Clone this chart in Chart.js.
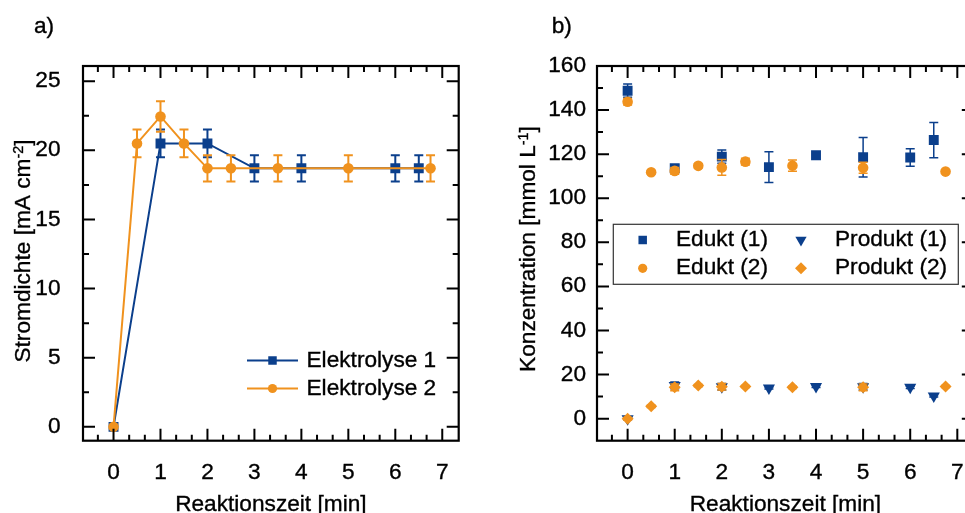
<!DOCTYPE html>
<html lang="de">
<head>
<meta charset="utf-8">
<title>Stromdichte und Konzentration</title>
<script src="https://cdn.jsdelivr.net/npm/chart.js@4.4.1/dist/chart.umd.min.js"></script>
<style>
  body { margin: 0; background: #fff; }
  .panel { position: absolute; top: 0; height: 513px; overflow: hidden; }
  #panelA { left: 0; width: 485px; }
  #panelB { left: 485px; width: 480px; }
</style>
</head>
<body>
<div class="panel" id="panelA"><canvas id="stromdichte" width="485" height="513"></canvas></div>
<div class="panel" id="panelB"><canvas id="konzentration" width="500" height="513"></canvas></div>
<script>
// a) Stromdichte
const zeitA1 = [0, 1, 2, 3, 4, 6, 6.5];
const stromA1 = [0, 20.5, 20.5, 18.7, 18.7, 18.7, 18.7];
const fehlerA1 = [0, 1.0, 1.0, 0.95, 0.95, 0.95, 0.95];
const zeitA2 = [0, 0.5, 1, 1.5, 2, 2.5, 3.5, 5, 6.75];
const stromA2 = [0, 20.5, 22.45, 20.5, 18.7, 18.7, 18.7, 18.7, 18.7];
const fehlerA2 = [0, 1.0, 1.1, 1.0, 0.95, 0.95, 0.95, 0.95, 0.95];

// b) Konzentration
const zeitB1 = [0, 1, 2, 3, 4, 5, 6, 6.5];
const edukt1 = [148.8, 113.6, 118.9, 114.1, 119.5, 118.6, 118.5, 126.4];
const eduktFehler1 = [3, 1.5, 3, 7, 0, 9, 4, 8];
const produkt1 = [0, 15.1, 14.5, 13.9, 14.6, 14.5, 14.2, 10.3];
const produktFehler1 = [0.5, 1.5, 1.5, 0.5, 0.5, 1.5, 0.5, 0.5];
const zeitB2 = [0, 0.5, 1, 1.5, 2, 2.5, 3.5, 5, 6.75];
const edukt2 = [143.8, 111.8, 112.4, 114.7, 114, 116.6, 114.8, 113.8, 112.1];
const eduktFehler2 = [1.5, 0.8, 1.5, 1, 3.6, 1.5, 2.5, 2.5, 0.5];
const produkt2 = [0, 5.6, 14.2, 15, 14.5, 14.6, 14.2, 14.2, 14.6];
const produktFehler2 = [0.5, 0.5, 1.5, 0.5, 1.5, 0.5, 0.5, 1.5, 0.5];

// Achsen
const zeitTicks = [0, 1, 2, 3, 4, 5, 6, 7];
const stromTicks = [0, 5, 10, 15, 20, 25];
const konzTicks = [0, 20, 40, 60, 80, 100, 120, 140, 160];

const BLAU = '#0b3f8c';
const ORANGE = '#f0921e';
const FAMILY = "'Liberation Sans', Arial, sans-serif";
const FONT = '22px ' + FAMILY;
const SUP_FONT = '14px ' + FAMILY;
const STRETCH = 1.03;   // die Schrift im Original ist etwas breiter

function punkte(xs, ys) {
  return xs.map((t, i) => ({x: t, y: ys[i]}));
}

// alle Texte etwas breiter und kräftiger zeichnen
const breiteSchrift = {
  id: 'breiteSchrift',
  beforeInit(chart) {
    const ctx = chart.ctx;
    const fill = ctx.fillText.bind(ctx);
    const stroke = ctx.strokeText.bind(ctx);
    ctx.fillText = function(text, x, y) {
      ctx.save();
      ctx.translate(x, y);
      ctx.scale(STRETCH, 1);
      fill(text, 0, 0);
      ctx.strokeStyle = ctx.fillStyle;
      ctx.lineWidth = 0.35;
      stroke(text, 0, 0);
      ctx.restore();
    };
  }
};

// Fehlerbalken vor jedem Datensatz
const fehlerbalken = {
  id: 'fehlerbalken',
  beforeDatasetDraw(chart, args) {
    const ds = chart.data.datasets[args.index];
    if (!ds.errors) return;
    const {ctx} = chart;
    const y = chart.scales.y;
    ctx.save();
    ctx.strokeStyle = ds.borderColor;
    ctx.lineWidth = ds.errorWidth || 1.5;
    args.meta.data.forEach((pt, i) => {
      const e = ds.errors[i];
      if (!e) return;
      const v = ds.data[i].y;
      const top = y.getPixelForValue(v + e), bot = y.getPixelForValue(v - e);
      const c = 4.5;
      ctx.beginPath();
      ctx.moveTo(pt.x, top); ctx.lineTo(pt.x, bot);
      ctx.moveTo(pt.x - c, top); ctx.lineTo(pt.x + c, top);
      ctx.moveTo(pt.x - c, bot); ctx.lineTo(pt.x + c, bot);
      ctx.stroke();
    });
    ctx.restore();
  }
};

// Rahmen mit Teilstrichen nach innen, auf allen vier Seiten
const rahmen = {
  id: 'rahmen',
  afterDraw(chart, args, o) {
    const {ctx, chartArea: a, scales: {x, y}} = chart;
    ctx.save();
    ctx.strokeStyle = '#000';
    ctx.lineWidth = 2;
    ctx.beginPath();
    for (let k = Math.ceil(x.min / o.xStep - 1e-9); k * o.xStep <= x.max + 1e-9; k++) {
      const px = x.getPixelForValue(k * o.xStep);
      if (px < a.left + 1 || px > a.right - 1) continue;
      const len = k % o.xEvery === 0 ? 12 : 6;
      ctx.moveTo(px, a.bottom); ctx.lineTo(px, a.bottom - len);
      ctx.moveTo(px, a.top); ctx.lineTo(px, a.top + len);
    }
    for (let k = Math.ceil(y.min / o.yStep - 1e-9); k * o.yStep <= y.max + 1e-9; k++) {
      const py = y.getPixelForValue(k * o.yStep);
      if (py < a.top + 1 || py > a.bottom - 1) continue;
      const len = k % o.yEvery === 0 ? 12 : 6;
      ctx.moveTo(a.left, py); ctx.lineTo(a.left + len, py);
      ctx.moveTo(a.right, py); ctx.lineTo(a.right - len, py);
    }
    ctx.stroke();
    ctx.lineWidth = 2.2;
    ctx.strokeRect(a.left, a.top, a.right - a.left, a.bottom - a.top);
    ctx.restore();
  }
};

// Legende im Diagramm
const legende = {
  id: 'legende',
  afterDatasetsDraw(chart, args, o) {
    const {ctx} = chart;
    ctx.save();
    if (o.box) {
      ctx.strokeStyle = '#333';
      ctx.lineWidth = 1.2;
      ctx.strokeRect(o.box[0], o.box[1], o.box[2], o.box[3]);
    }
    o.items.forEach(it => {
      const ds = chart.data.datasets[it.index];
      if (o.line) {
        ctx.strokeStyle = ds.borderColor;
        ctx.lineWidth = ds.borderWidth;
        ctx.beginPath();
        ctx.moveTo(it.x - o.line, it.y);
        ctx.lineTo(it.x + o.line, it.y);
        ctx.stroke();
      }
      ctx.fillStyle = ds.backgroundColor;
      Chart.helpers.drawPoint(ctx, {
        pointStyle: ds.pointStyle,
        rotation: ds.pointRotation || 0,
        radius: it.r || ds.pointRadius,
        borderWidth: 0
      }, it.x, it.y);
      ctx.fillStyle = '#000';
      ctx.font = FONT;
      ctx.textAlign = 'left';
      ctx.textBaseline = 'middle';
      ctx.fillText(ds.label, it.tx, it.y);
    });
    ctx.restore();
  }
};

// Achsentitel (mit Hochzahl) und Teilbild-Buchstabe
const achsentitel = {
  id: 'achsentitel',
  afterDraw(chart, args, o) {
    const {ctx, chartArea: a} = chart;
    ctx.save();
    ctx.fillStyle = '#000';
    ctx.font = FONT;
    ctx.textBaseline = 'alphabetic';
    ctx.textAlign = 'center';
    ctx.fillText(o.x, (a.left + a.right) / 2, o.xBase);
    ctx.textAlign = 'left';
    ctx.fillText(o.panel, o.panelX, o.panelY);

    ctx.translate(o.yBase, o.yMid);
    ctx.rotate(-Math.PI / 2);
    let w = 0;
    o.y.forEach(p => {
      ctx.font = p.sup ? SUP_FONT : FONT;
      p.w = ctx.measureText(p.t).width * STRETCH;
      w += p.w;
    });
    let cx = -w / 2;
    o.y.forEach(p => {
      ctx.font = p.sup ? SUP_FONT : FONT;
      ctx.fillText(p.t, cx, p.sup ? -7 : 0);
      cx += p.w;
    });
    ctx.restore();
  }
};

const tickFont = {family: FAMILY, size: 22};

// Stromdichte
new Chart(document.getElementById('stromdichte'), {
  type: 'line',
  data: {
    datasets: [
      {
        label: 'Elektrolyse 1',
        data: punkte(zeitA1, stromA1),
        errors: fehlerA1,
        errorWidth: 2,
        borderColor: BLAU,
        backgroundColor: BLAU,
        borderWidth: 2,
        pointStyle: 'rect',
        pointRadius: 7,
        pointBorderWidth: 0,
        order: 2
      },
      {
        label: 'Elektrolyse 2',
        data: punkte(zeitA2, stromA2),
        errors: fehlerA2,
        errorWidth: 2,
        borderColor: ORANGE,
        backgroundColor: ORANGE,
        borderWidth: 2,
        pointStyle: 'circle',
        pointRadius: 5.3,
        pointBorderWidth: 0,
        order: 1
      }
    ]
  },
  options: {
    responsive: false,
    animation: false,
    devicePixelRatio: 1,
    layout: {padding: {top: 66, right: 26.3, left: 0, bottom: 0}},
    scales: {
      x: {
        type: 'linear',
        min: -0.65,
        max: 7.35,
        afterBuildTicks: s => { s.ticks = zeitTicks.map(v => ({value: v})); },
        afterFit: s => { s.height = 72.3; },
        grid: {display: false},
        border: {display: false},
        ticks: {padding: 11.5, font: tickFont, color: '#000', autoSkip: false, maxRotation: 0}
      },
      y: {
        min: -1,
        max: 26.1,
        afterBuildTicks: s => { s.ticks = stromTicks.map(v => ({value: v})); },
        afterFit: s => { s.width = 83; },
        grid: {display: false},
        border: {display: false},
        ticks: {padding: 14.5, font: tickFont, color: '#000'}
      }
    },
    plugins: {
      legend: {display: false},
      tooltip: {enabled: false},
      rahmen: {xStep: 1 / 3, xEvery: 3, yStep: 2.5, yEvery: 2},
      legende: {
        line: 25.5,
        items: [
          {index: 0, x: 272.5, y: 360.5, tx: 306.5, r: 6},
          {index: 1, x: 272.5, y: 388.5, tx: 306.5, r: 4.6}
        ]
      },
      achsentitel: {
        x: 'Reaktionszeit [min]', xBase: 511,
        panel: 'a)', panelX: 34, panelY: 33,
        y: [{t: 'Stromdichte [mA cm'}, {t: '-2', sup: true}, {t: ']'}],
        yBase: 30, yMid: 251
      }
    }
  },
  plugins: [breiteSchrift, fehlerbalken, legende, rahmen, achsentitel]
});

// Konzentration
new Chart(document.getElementById('konzentration'), {
  type: 'scatter',
  data: {
    datasets: [
      {
        label: 'Edukt (1)',
        data: punkte(zeitB1, edukt1),
        errors: eduktFehler1,
        borderColor: BLAU,
        backgroundColor: BLAU,
        pointStyle: 'rect',
        pointRadius: 7,
        pointBorderWidth: 0,
        order: 4
      },
      {
        label: 'Produkt (1)',
        data: punkte(zeitB1, produkt1),
        errors: produktFehler1,
        borderColor: BLAU,
        backgroundColor: BLAU,
        pointStyle: 'triangle',
        pointRotation: 180,
        pointRadius: 7,
        pointBorderWidth: 0,
        order: 3
      },
      {
        label: 'Edukt (2)',
        data: punkte(zeitB2, edukt2),
        errors: eduktFehler2,
        borderColor: ORANGE,
        backgroundColor: ORANGE,
        pointStyle: 'circle',
        pointRadius: 5.3,
        pointBorderWidth: 0,
        order: 2
      },
      {
        label: 'Produkt (2)',
        data: punkte(zeitB2, produkt2),
        errors: produktFehler2,
        borderColor: ORANGE,
        backgroundColor: ORANGE,
        pointStyle: 'rectRot',
        pointRadius: 6,
        pointBorderWidth: 0,
        order: 1
      }
    ]
  },
  options: {
    responsive: false,
    animation: false,
    devicePixelRatio: 1,
    layout: {padding: {top: 66, right: 11.2, left: 0, bottom: 0}},
    scales: {
      x: {
        type: 'linear',
        min: -0.65,
        max: 7.35,
        afterBuildTicks: s => { s.ticks = zeitTicks.map(v => ({value: v})); },
        afterFit: s => { s.height = 72.3; },
        grid: {display: false},
        border: {display: false},
        ticks: {padding: 11.5, font: tickFont, color: '#000', autoSkip: false, maxRotation: 0}
      },
      y: {
        min: -10,
        max: 160,
        afterBuildTicks: s => { s.ticks = konzTicks.map(v => ({value: v})); },
        afterFit: s => { s.width = 112; },
        grid: {display: false},
        border: {display: false},
        ticks: {padding: 3, font: tickFont, color: '#000'}
      }
    },
    plugins: {
      legend: {display: false},
      tooltip: {enabled: false},
      rahmen: {xStep: 1 / 3, xEvery: 3, yStep: 10, yEvery: 2},
      legende: {
        box: [128.3, 224.3, 345, 60],
        items: [
          {index: 0, x: 157.7, y: 240, tx: 191, r: 6},
          {index: 1, x: 316, y: 240, tx: 350, r: 6.5},
          {index: 2, x: 157.7, y: 268.3, tx: 191, r: 4.6},
          {index: 3, x: 316, y: 268.3, tx: 350, r: 6}
        ]
      },
      achsentitel: {
        x: 'Reaktionszeit [min]', xBase: 511,
        panel: 'b)', panelX: 66.7, panelY: 33,
        y: [{t: 'Konzentration [mmol L'}, {t: '-1', sup: true}, {t: ']'}],
        yBase: 49.5, yMid: 249
      }
    }
  },
  plugins: [breiteSchrift, fehlerbalken, legende, rahmen, achsentitel]
});
</script>
</body>
</html>
